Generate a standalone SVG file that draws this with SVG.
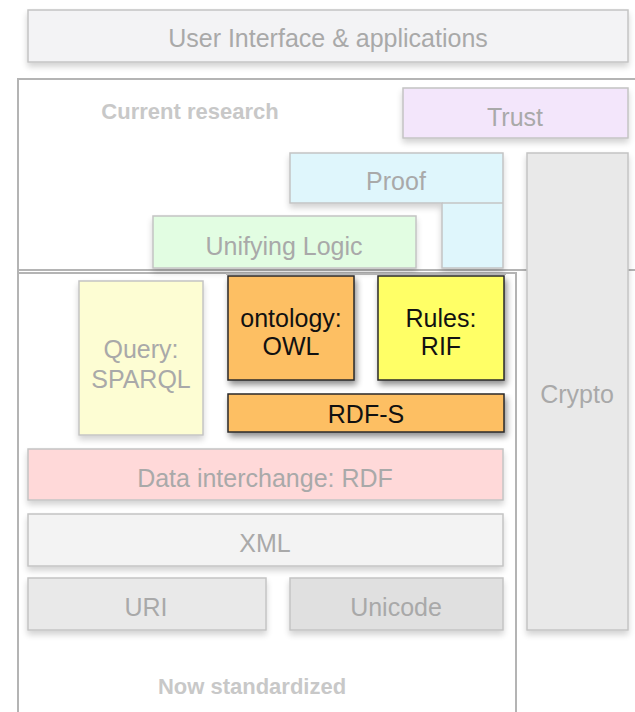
<svg xmlns="http://www.w3.org/2000/svg" width="635" height="712" viewBox="0 0 635 712">
<style>
text{font-family:"Liberation Sans",Arial,sans-serif;text-anchor:middle;}
.lbl{font-size:25px;fill:#a9a9a9;}
.dk{font-size:25px;fill:#111;}
.cap{font-size:22px;font-weight:bold;fill:#c8c8c8;}
.box{stroke:#c4c4c4;stroke-width:1.5;filter:url(#sh);}
.hard{stroke:#2a2a2a;stroke-width:1.5;filter:url(#sh2);}
.frame{fill:none;stroke:#b4b4b4;stroke-width:2;}
</style>
<defs>
<filter id="sh" x="-10%" y="-10%" width="120%" height="140%">
<feGaussianBlur in="SourceAlpha" stdDeviation="3"/>
<feOffset dx="0" dy="4" result="b"/>
<feComponentTransfer><feFuncA type="linear" slope="0.18"/></feComponentTransfer>
<feMerge><feMergeNode/><feMergeNode in="SourceGraphic"/></feMerge>
</filter>
<filter id="sh2" x="-10%" y="-10%" width="125%" height="140%">
<feGaussianBlur in="SourceAlpha" stdDeviation="3"/>
<feOffset dx="2" dy="4" result="b"/>
<feComponentTransfer><feFuncA type="linear" slope="0.45"/></feComponentTransfer>
<feMerge><feMergeNode/><feMergeNode in="SourceGraphic"/></feMerge>
</filter>
</defs>
<rect width="635" height="712" fill="#fff"/>

<g id="frames">
<path class="frame" d="M636 79 H18 V270 H636"/>
<path class="frame" d="M18 270 V713 M18 273 H516 V713"/>
</g>

<g id="ui"><rect class="box" x="28" y="10" width="600" height="52" fill="#f3f3f5"/><text class="lbl" x="328" y="47">User Interface &amp; applications</text></g>
<g id="current-research"><text class="cap" x="190" y="119">Current research</text></g>
<g id="trust"><rect class="box" x="403" y="88" width="225" height="50" fill="#f3e6fb"/><text class="lbl" x="515" y="126">Trust</text></g>
<g id="crypto"><rect class="box" x="527" y="153" width="101" height="477" fill="#e9e9e9"/><text class="lbl" x="577" y="403">Crypto</text></g>
<g id="proof"><path class="box" d="M290 153 H503 V268 H442 V203 H290 Z" fill="#dff6fc"/><line x1="442" y1="203" x2="503" y2="203" stroke="#c4c4c4" stroke-width="1.5"/><text class="lbl" x="396" y="190">Proof</text></g>
<g id="unifying-logic"><rect class="box" x="153" y="216" width="263" height="52" fill="#e2fde2"/><text class="lbl" x="284" y="255">Unifying Logic</text></g>

<g id="query"><rect class="box" x="79" y="281" width="124" height="154" fill="#fdfdd3"/><text class="lbl" x="141" y="358">Query:</text><text class="lbl" x="141" y="388">SPARQL</text></g>
<g id="owl"><rect class="hard" x="228" y="276" width="126" height="104" fill="#fdbf63"/><text class="dk" x="291" y="327">ontology:</text><text class="dk" x="291" y="355">OWL</text></g>
<g id="rif"><rect class="hard" x="378" y="276" width="126" height="104" fill="#ffff66"/><text class="dk" x="441" y="327">Rules:</text><text class="dk" x="441" y="355">RIF</text></g>
<line x1="226" y1="274" x2="506" y2="274" stroke="#b4b4b4" stroke-width="2"/>
<g id="rdfs"><rect class="hard" x="228" y="394" width="276" height="38" fill="#fdbf63"/><text class="dk" x="366" y="423">RDF-S</text></g>
<g id="rdf"><rect class="box" x="28" y="449" width="475" height="51" fill="#ffd9d9"/><text class="lbl" x="265" y="487">Data interchange: RDF</text></g>
<g id="xml"><rect class="box" x="28" y="514" width="475" height="52" fill="#f3f3f3"/><text class="lbl" x="265" y="552">XML</text></g>
<g id="uri"><rect class="box" x="28" y="578" width="238" height="52" fill="#e9e9e9" stroke="#ececec"/><text class="lbl" x="146" y="616">URI</text></g>
<g id="unicode"><rect class="box" x="290" y="578" width="213" height="52" fill="#e0e0e0" stroke="#ececec"/><text class="lbl" x="396" y="616">Unicode</text></g>
<g id="now-standardized"><text class="cap" x="252" y="694">Now standardized</text></g>
</svg>
